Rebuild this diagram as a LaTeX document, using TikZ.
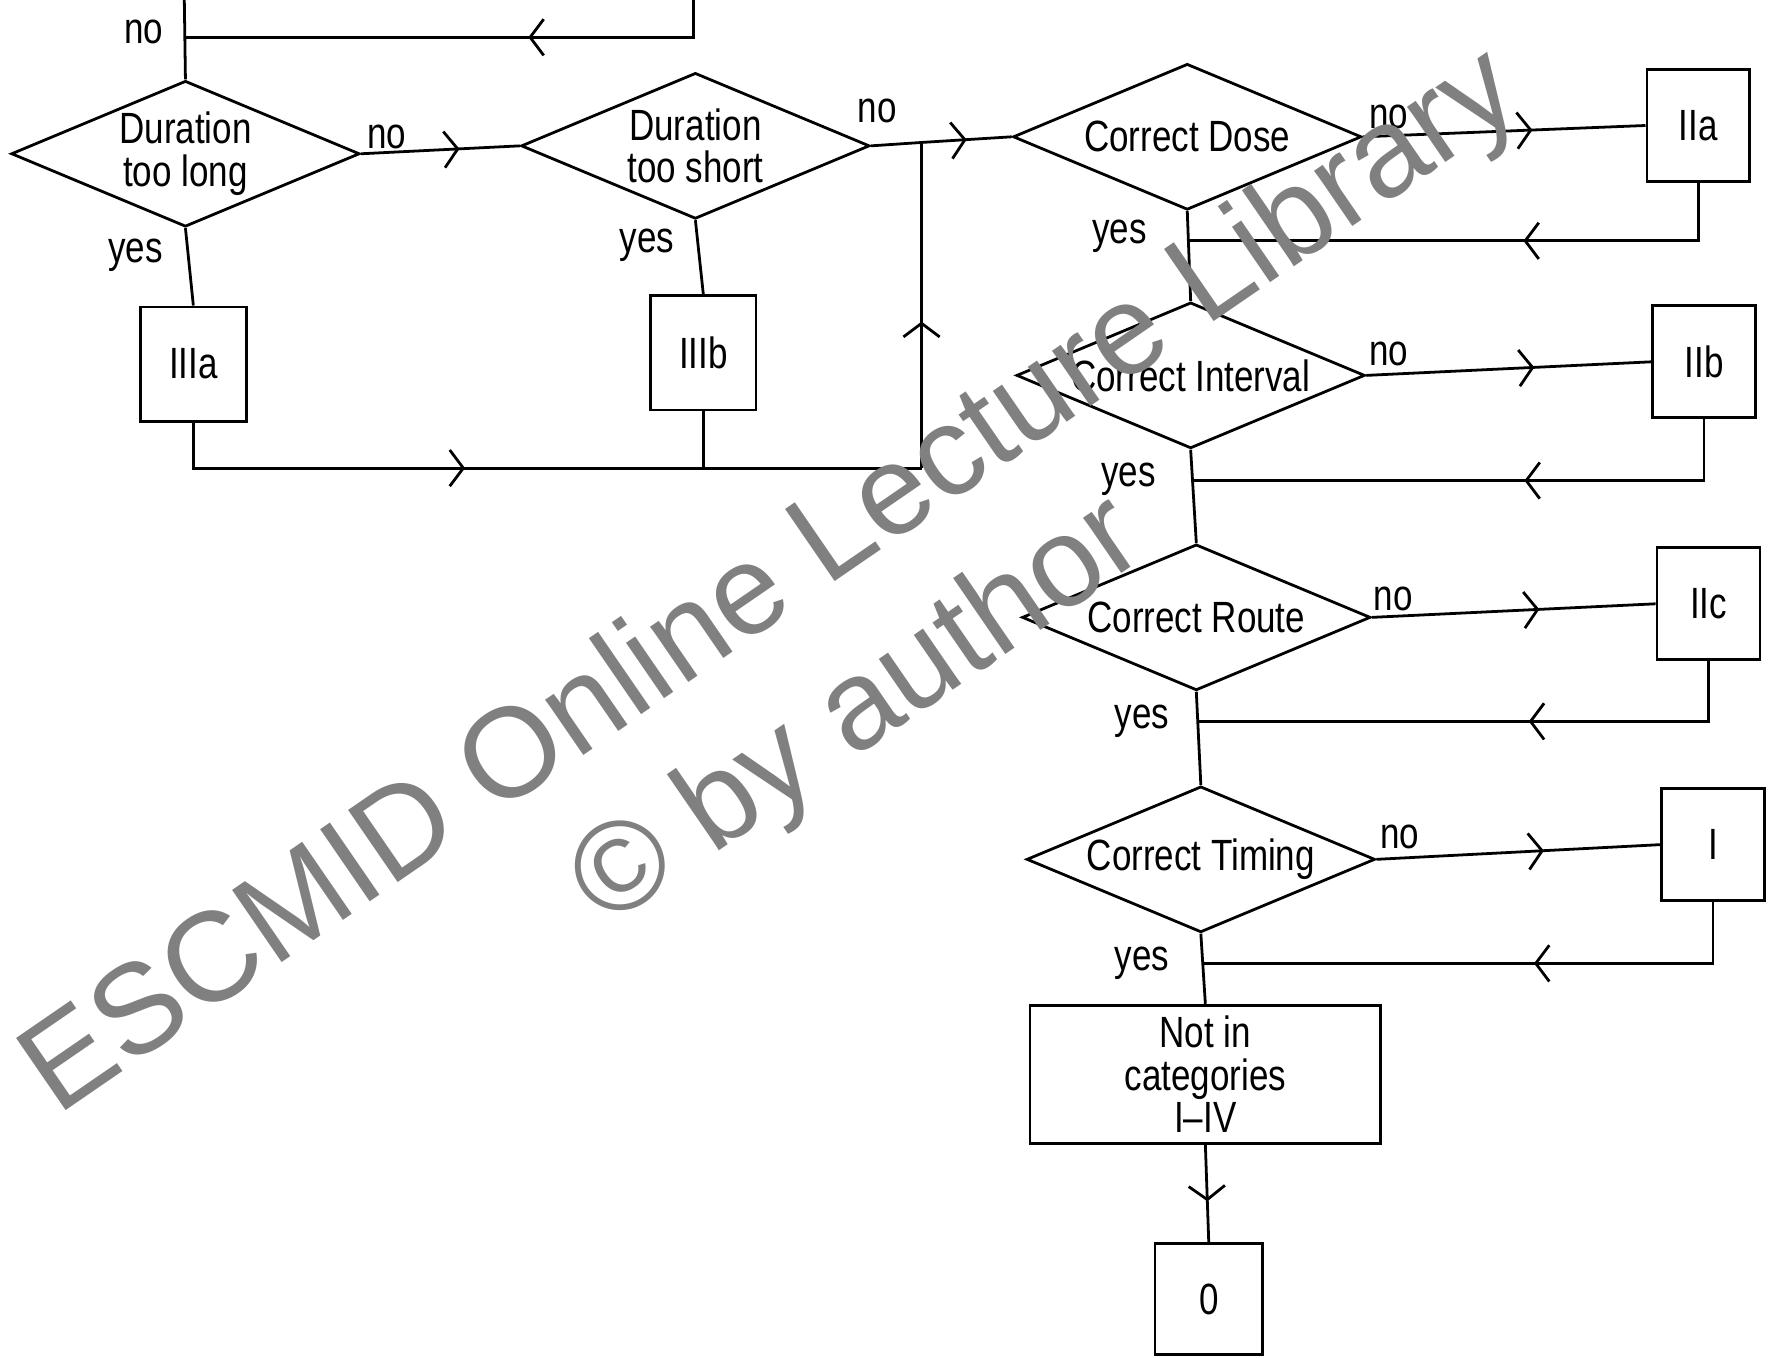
\documentclass[tikz,border=0pt]{standalone}
\usepackage{fontspec}
\setmainfont{Liberation Sans}
\newfontfamily\chartfont[FakeStretch=0.8,Ligatures=TeX]{Liberation Sans}
\usetikzlibrary{shapes.geometric,arrows.meta,decorations.markings}
\definecolor{wmgray}{RGB}{128,128,128}
\tikzset{flow/.style={postaction={decorate},
  decoration={markings, mark=at position #1 with {\arrow{Straight Barb[length=0.12cm,width=0.32cm]}}}}}
\begin{document}
\begin{tikzpicture}[x=0.01cm,y=-0.01cm,line width=0.7pt]
\tikzstyle{every node}+=[inner sep=0pt, align=center, font=\chartfont\fontsize{11}{10.8}\selectfont]
\tikzstyle{test}=[draw, diamond, aspect=2.4, minimum width=3.08cm, minimum height=1.29cm]
\tikzstyle{cat}=[draw, rectangle, minimum width=0.91cm, minimum height=0.99cm]
\useasboundingbox (0,0) rectangle (1568,1201);
\node [test] (long) at (164,136) {Duration\\too long};
\node [test] (short) at (615,129) {Duration\\too short};
\node [test] (dose) at (1050,121) {Correct Dose};
\node [test] (interval) at (1053,332) {Correct Interval};
\node [test] (route) at (1058,546) {Correct Route};
\node [test] (timing) at (1062,760) {Correct Timing};
\node [cat, minimum height=1.01cm, minimum width=0.94cm] (IIIa) at (171,322) {IIIa};
\node [cat, minimum height=1.01cm, minimum width=0.93cm] (IIIb) at (622,312) {IIIb};
\node [cat] (IIa) at (1502,111) {IIa};
\node [cat] (IIb) at (1507,320) {IIb};
\node [cat] (IIc) at (1511,534) {IIc};
\node [cat] (I) at (1515,747) {I};
\node [draw, minimum width=3.1cm, minimum height=1.22cm] (none) at (1066,950) {Not in\\categories\\I--IV};
\node [cat, minimum width=0.95cm, minimum height=0.98cm] (zero) at (1069,1149) {0};
\coordinate (in) at (163,0);
\coordinate (back) at (613,0);
\coordinate (backend) at (163,33);
\coordinate (join) at (815,126);
\coordinate (bottom) at (815,414);
\coordinate (ra) at (1051,213);
\coordinate (rb) at (1054,425);
\coordinate (rc) at (1059,638);
\coordinate (rd) at (1063,852);
\draw (in) -- (long.north);
\draw [flow=0.37] (back) |- (backend);
\draw [flow=0.62] (long.east) -- (short.west);
\draw [flow=0.68] (short.east) -- (join) -- (dose.west);
\draw (long.south) -- (IIIa.north);
\draw (short.south) -- (IIIb.north);
\draw [flow=0.41] (IIIa.south) |- (bottom);
\draw (IIIb.south) -- (IIIb.south |- bottom);
\draw [flow=0.45] (bottom) -- (join);
\draw [flow=0.6] (dose.east) -- (IIa.west);
\draw [flow=0.41] (IIa.south) |- (ra);
\draw (dose.south) -- (interval.north);
\draw [flow=0.59] (interval.east) -- (IIb.west);
\draw [flow=0.42] (IIb.south) |- (rb);
\draw (interval.south) -- (route.north);
\draw [flow=0.59] (route.east) -- (IIc.west);
\draw [flow=0.42] (IIc.south) |- (rc);
\draw (route.south) -- (timing.north);
\draw [flow=0.59] (timing.east) -- (I.west);
\draw [flow=0.42] (I.south) |- (rd);
\draw (timing.south) -- (none.north);
\draw [flow=0.58] (none.south) -- (zero.north);
\node (no0) at (127,28) {no};
\node (no1) at (342,121) {no};
\node (no2) at (776,98) {no};
\node (no3) at (1228,103) {no};
\node (no4) at (1228,313) {no};
\node (no5) at (1232,530) {no};
\node (no6) at (1238,740) {no};
\node (yes1) at (120,226) {yes};
\node (yes2) at (572,217) {yes};
\node (yes3) at (990,209) {yes};
\node (yes4) at (998,424) {yes};
\node (yes5) at (1010,638) {yes};
\node (yes6) at (1010,852) {yes};
\node [rotate=34.5, text=wmgray, font=\fontsize{32}{32}\selectfont] (wm1) at (684,517) {ESCMID Online Lecture Library};
\node [rotate=34.5, text=wmgray, font=\fontsize{32}{32}\selectfont] (wm2) at (760,632) {\textcopyright{} by author};
\end{tikzpicture}
\end{document}
